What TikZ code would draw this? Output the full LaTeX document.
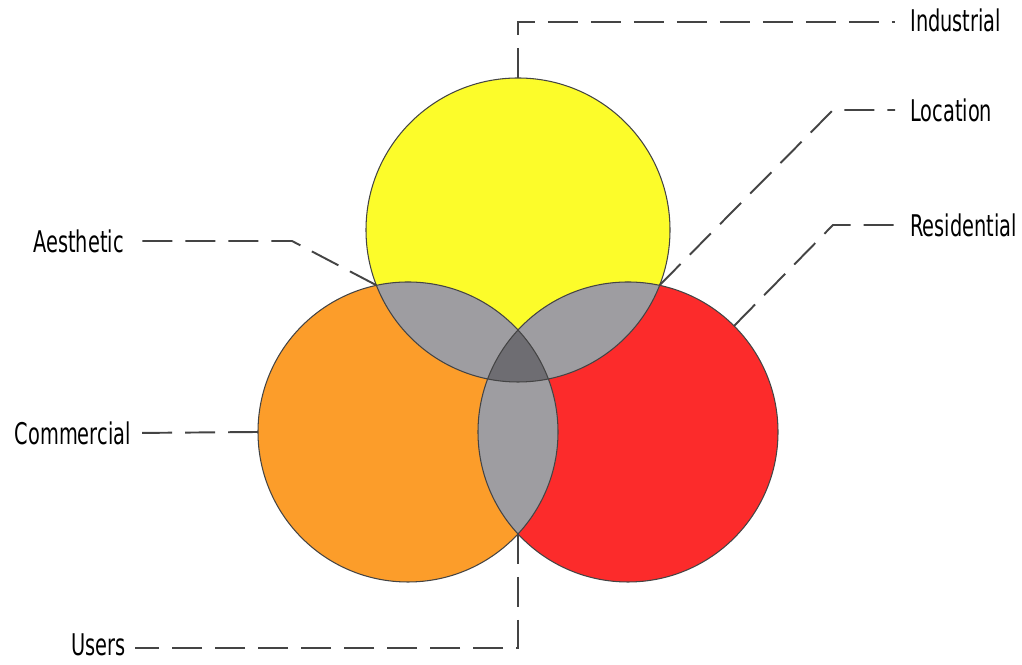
\documentclass[tikz,border=0pt]{standalone}
\usepackage{fontspec}
\usepackage{xcolor}
\usepackage{tikz}
\usetikzlibrary{calc}
\newfontfamily\tagfont[FakeStretch=0.72]{DejaVu Sans Condensed}
\definecolor{vyellow}{HTML}{FCFC2A}
\definecolor{vorange}{HTML}{FC9D2A}
\definecolor{vred}{HTML}{FC2B2B}
\definecolor{vgray}{HTML}{9E9DA1}
\definecolor{vdark}{HTML}{6E6D72}
\definecolor{vline}{HTML}{444444}
\tikzset{
  leader/.style={vline, line width=1.1pt, dash pattern=on 0.6cm off 0.26cm},
  tag/.style={font=\tagfont\fontsize{17}{20}\selectfont, text=black, inner sep=0pt}
}

\begin{document}
\begin{tikzpicture}[x=0.02cm, y=0.02cm]
\useasboundingbox (0,0) rectangle (1022,665);
% circle centres
\coordinate (Y) at (518,435);
\coordinate (O) at (408,233);
\coordinate (R) at (628,233);
\def\ry{152}
\def\ro{150}
\fill[vyellow] (Y) circle (\ry);
\fill[vorange] (O) circle (\ro);
\fill[vred] (R) circle (\ro);
% pairwise overlaps
\begin{scope}
  \clip (Y) circle (\ry);
  \fill[vgray] (O) circle (\ro);
  \fill[vgray] (R) circle (\ro);
\end{scope}
\begin{scope}
  \clip (O) circle (\ro);
  \fill[vgray] (R) circle (\ro);
\end{scope}
% centre overlap
\begin{scope}
  \clip (Y) circle (\ry);
  \clip (O) circle (\ro);
  \fill[vdark] (R) circle (\ro);
\end{scope}
\draw[vline, line width=0.6pt] (Y) circle (\ry) (O) circle (\ro) (R) circle (\ro);
% anchor points on the circles
\coordinate (ytop) at ($(Y)+(90:\ry)$);
\coordinate (yo) at (376.5,379.7);
\coordinate (yr) at (659.5,379.7);
\coordinate (rside) at ($(R)+(45:\ro)$);
\coordinate (oside) at ($(O)+(180:\ro)$);
\coordinate (orbot) at (518,131);
% labels
\node[tag, anchor=west] (industrial) at (910,645) {Industrial};
\node[tag, anchor=west] (location) at (910,555) {Location};
\node[tag, anchor=west] (residential) at (910,440) {Residential};
\node[tag, anchor=east] (aesthetic) at (124,424) {Aesthetic};
\node[tag, anchor=east] (commercial) at (131,232) {Commercial};
\node[tag, anchor=east] (users) at (126,20) {Users};
% leaders
\draw[leader] (ytop) -- (518,643) -- ($(industrial.west)+(-15,-2)$);
\draw[leader] (yr) -- (833,555) -- ($(location.west)+(-15,0)$);
\draw[leader] (rside) -- (833,440) -- ($(residential.west)+(-15,0)$);
\draw[leader] (yo) -- (292,424) -- ($(aesthetic.east)+(11,0)$);
\draw[leader] (oside) -- ($(commercial.east)+(3,0)$);
\draw[leader] (orbot) -- (518,17) -- ($(users.east)+(9,-3)$);
\end{tikzpicture}
\end{document}
